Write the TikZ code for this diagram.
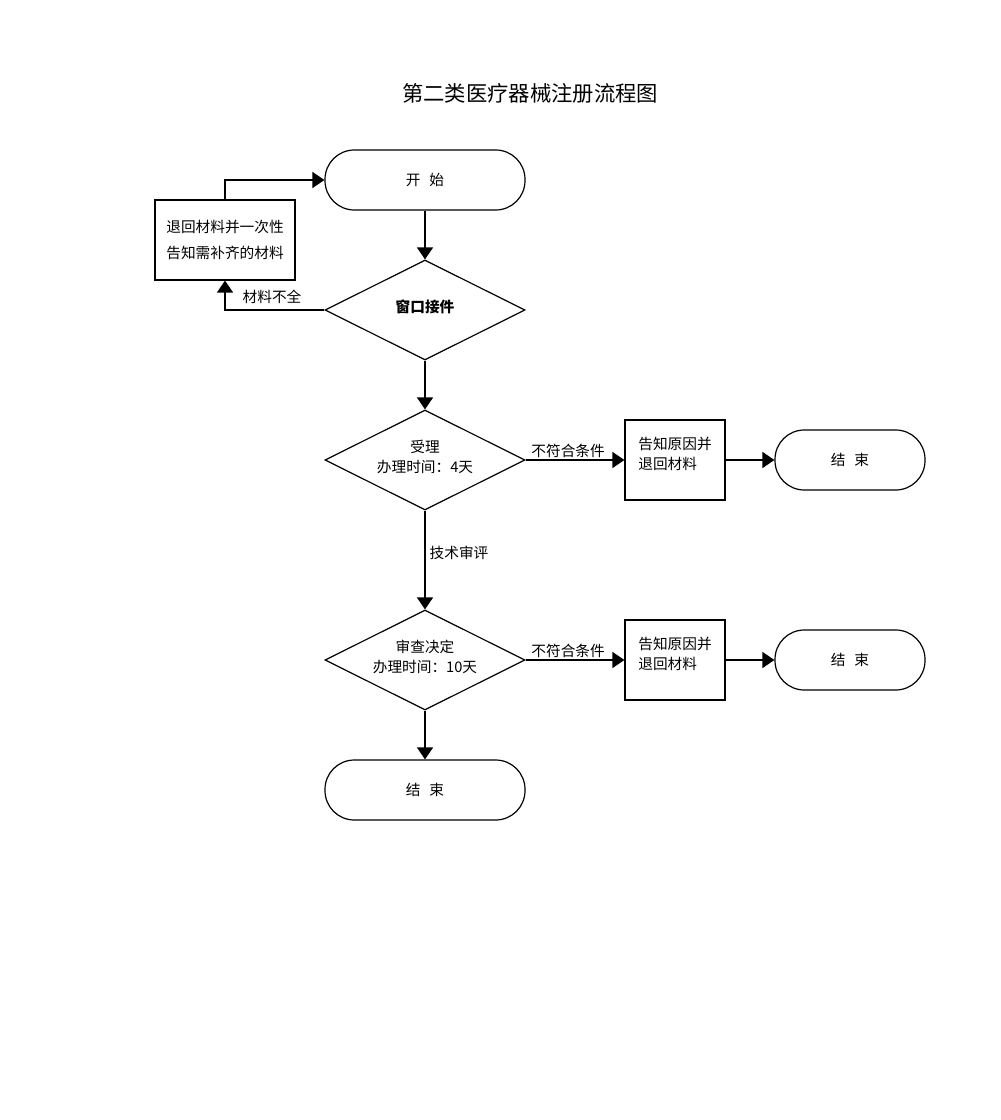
\documentclass[tikz,border=0pt]{standalone}
\usepackage{fontspec}
\setmainfont{Noto Sans CJK SC}
\usetikzlibrary{shapes.geometric,arrows.meta}
\newcommand{\gapsp}{\hspace{0.6em}}
\begin{document}
\begin{tikzpicture}[x=0.75pt,y=-0.75pt,
  every node/.style={font=\fontsize{11pt}{15pt}\selectfont},
  term/.style={draw, line width=0.9pt, rectangle, rounded corners=22pt, minimum height=45pt, inner sep=0pt},
  bigterm/.style={term, minimum width=150pt},
  smallterm/.style={term, minimum width=112.5pt},
  decision/.style={draw, line width=0.9pt, diamond, aspect=2, minimum width=150pt, minimum height=75pt, inner sep=0pt, align=center},
  procbox/.style={draw, line width=0.9pt, rectangle, minimum height=60pt, inner sep=0pt},
  conn/.style={line width=1.1pt, -{Triangle[length=9pt,width=12pt]}},
  lbl/.style={inner sep=1pt}
]
\fill[white] (0,0) rectangle (1000,1120);
\useasboundingbox (0,0) rectangle (1000,1120);

\node (title) at (530,93) {\fontsize{16pt}{20pt}\selectfont 第二类医疗器械注册流程图};

\node[bigterm] (start) at (425,180) {开\gapsp 始};
\node[procbox, minimum width=105pt, align=center, font=\fontsize{11pt}{20pt}\selectfont] (ret) at (225,240) {退回材料并一次性\\告知需补齐的材料};
\node[decision] (d1) at (425,310) {\bfseries 窗口接件\\[-9pt]};
\node[decision] (d2) at (425,460) {受理\\办理时间：4天\\[-9pt]};
\node[procbox, minimum width=75pt, align=left] (r1) at (675,460) {告知原因并\\退回材料\\[-5pt]};
\node[smallterm] (e1) at (850,460) {结\gapsp 束};
\node[decision] (d3) at (425,660) {审查决定\\办理时间：10天\\[-9pt]};
\node[procbox, minimum width=75pt, align=left] (r2) at (675,660) {告知原因并\\退回材料\\[-5pt]};
\node[smallterm] (e2) at (850,660) {结\gapsp 束};
\node[bigterm] (e3) at (425,790) {结\gapsp 束};

\draw[conn] (start.south) -- (d1.north);
\draw[conn] (d1.west) -| node[lbl, pos=0.25, above, xshift=-2pt, yshift=3pt] (l0) {材料不全} (ret.south);
\draw[conn] (ret.north) |- (start.west);
\draw[conn] (d1.south) -- (d2.north);
\draw[conn] (d2.east) -- node[lbl, pos=0.43, above] (l1) {不符合条件} (r1.west);
\draw[conn] (r1.east) -- (e1.west);
\draw[conn] (d2.south) -- node[lbl, pos=0.43, right, xshift=2pt] (l2) {技术审评} (d3.north);
\draw[conn] (d3.east) -- node[lbl, pos=0.43, above] (l3) {不符合条件} (r2.west);
\draw[conn] (r2.east) -- (e2.west);
\draw[conn] (d3.south) -- (e3.north);
\end{tikzpicture}
\end{document}
